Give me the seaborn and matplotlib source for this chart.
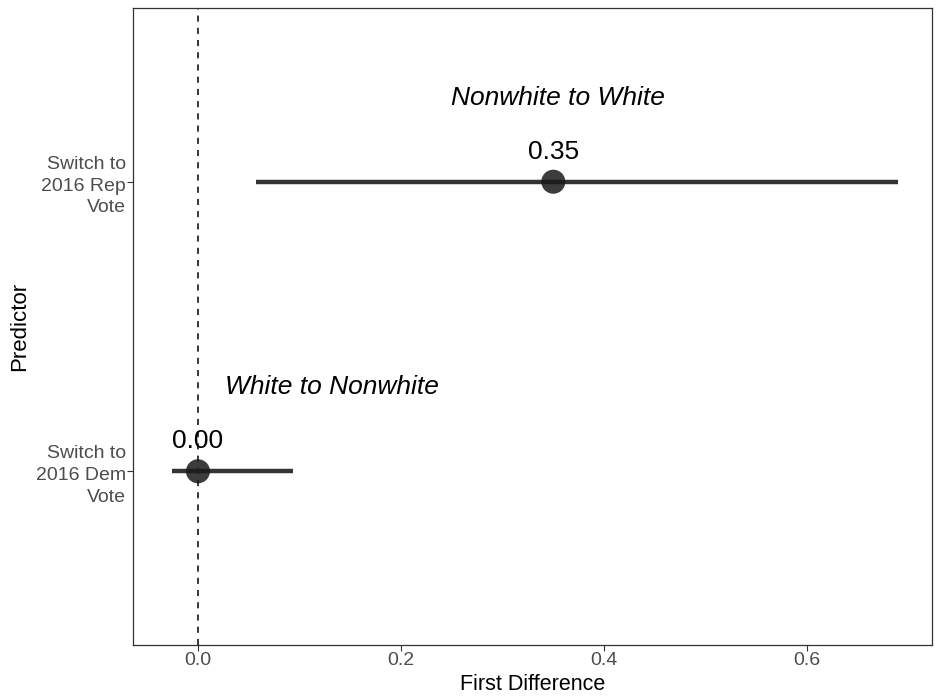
import matplotlib
matplotlib.use("Agg")
import matplotlib.pyplot as plt
import seaborn as sns
import pandas as pd

categories = ["Switch to\n2016 Dem\nVote", "Switch to\n2016 Rep\nVote"]
estimates = [0.00, 0.35]
lower = [-0.026, 0.057]
upper = [0.094, 0.690]
value_labels = ["0.00", "0.35"]
group_labels = ["White to Nonwhite", "Nonwhite to White"]
xticks = [0.0, 0.2, 0.4, 0.6]

df = pd.DataFrame({"cat": categories, "est": estimates, "lo": lower, "hi": upper})
df["pos"] = range(1, len(categories) + 1)

sns.set_style("white")
plt.rcParams["font.family"] = ["Liberation Sans", "DejaVu Sans"]

fig = plt.figure(figsize=(9.41, 6.96), dpi=100)
ax = fig.add_axes([133/941, 51/696, 799/941, 637/696])

ax.axvline(0, color="black", linestyle=(0, (4, 4)), linewidth=1.1, zorder=1)
ax.hlines(df["pos"], df["lo"], df["hi"], color="#333333", linewidth=3.2, zorder=2)
sns.scatterplot(data=df, x="est", y="pos", s=300, color="#1a1a1a", alpha=0.85,
                edgecolor="none", ax=ax, zorder=3, legend=False)

for _, r in df.iterrows():
    i = int(r["pos"]) - 1
    ax.text(r["est"], r["pos"] + 0.104, value_labels[i], ha="center", va="center",
            fontsize=19, color="black")

ax.text(0.132, 1.29, group_labels[0], ha="center", va="center", fontsize=19,
        style="italic", color="black")
ax.text(0.355, 2.29, group_labels[1], ha="center", va="center", fontsize=19,
        style="italic", color="black")

ax.set_xlim(-0.064, 0.723)
ax.set_ylim(0.4, 2.6)
ax.set_xticks(xticks)
ax.set_xticklabels([f"{v:.1f}" for v in xticks])
ax.set_yticks(df["pos"])
ax.set_yticklabels(df["cat"], ha="right", linespacing=1.35)
ax.tick_params(axis="both", labelsize=14, labelcolor="#4D4D4D", length=4,
               width=0.8, color="#333333", direction="out", left=True, bottom=True, pad=1)
for s in ax.spines.values():
    s.set_color("#333333")
    s.set_linewidth(0.9)
ax.set_xlabel("First Difference", fontsize=15.5, color="black", labelpad=4)
ax.set_ylabel("Predictor", fontsize=16, color="black")
ax.yaxis.set_label_coords(-0.129, 0.5)

fig.savefig("out.png", dpi=100)
